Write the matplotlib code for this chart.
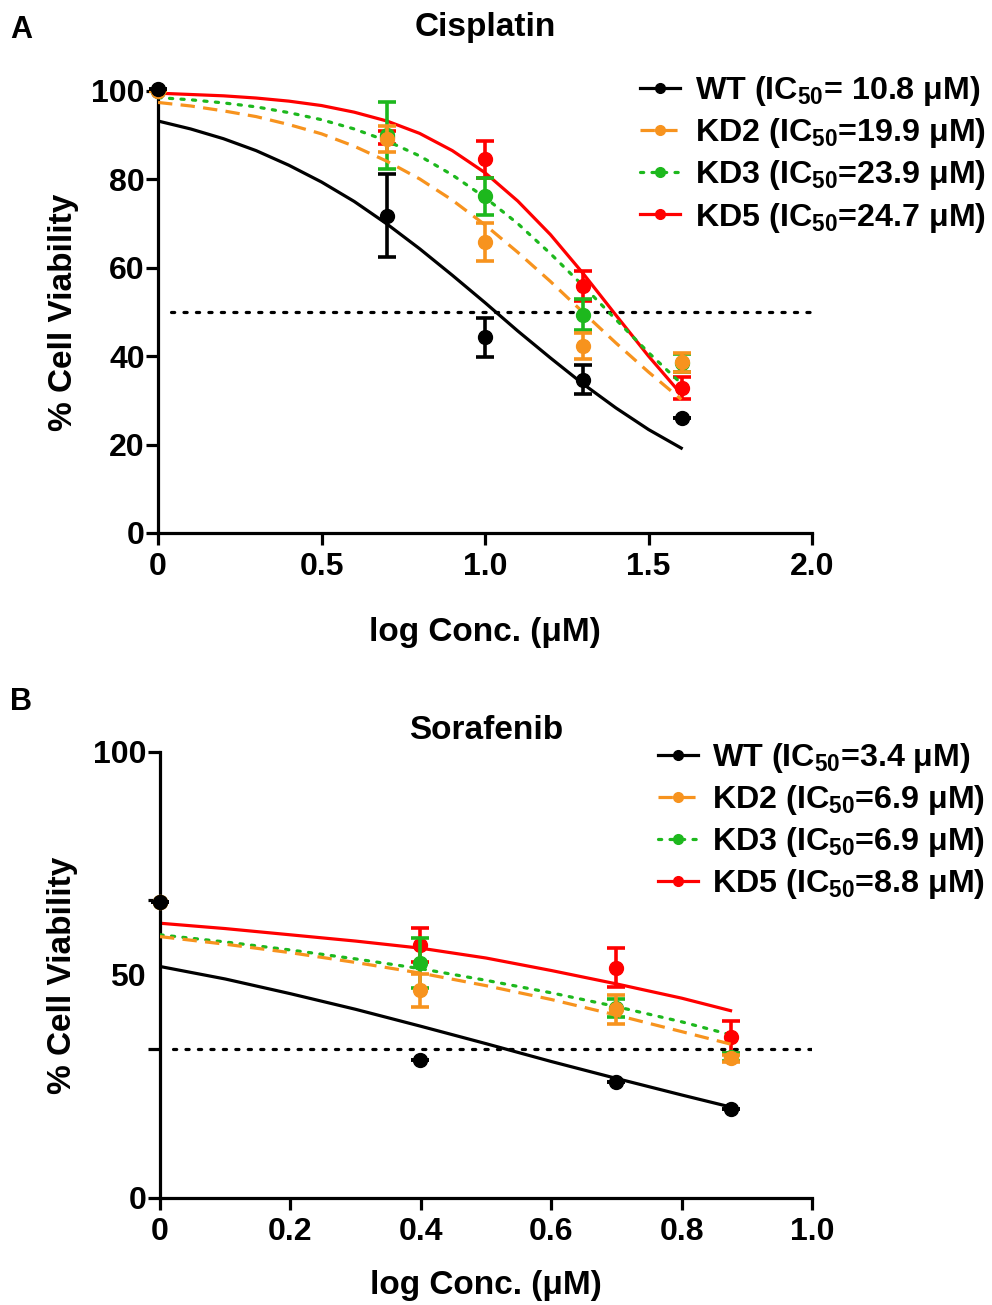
import matplotlib
matplotlib.use("Agg")
import matplotlib.pyplot as plt
from matplotlib.lines import Line2D

plt.rcParams['font.family'] = ['Liberation Sans', 'DejaVu Sans']
plt.rcParams['font.weight'] = 'bold'
plt.rcParams['axes.labelweight'] = 'bold'
plt.rcParams['mathtext.fontset'] = 'custom'
plt.rcParams['mathtext.rm'] = 'Liberation Sans:bold'
plt.rcParams['mathtext.it'] = 'Liberation Sans:bold'
plt.rcParams['mathtext.bf'] = 'Liberation Sans:bold'

# ---------------- Data ----------------
series = ['WT', 'KD2', 'KD3', 'KD5']
colors = {'WT': 'black', 'KD2': '#F7931E', 'KD3': '#1DB81D', 'KD5': '#FF0000'}

# Panel A: Cisplatin (log conc of 1, 5, 10, 20, 40 uM)
cis_x = [0, 0.699, 1.0, 1.301, 1.602]
cis_mean = {
    'WT':  [100.4, 71.8, 44.3, 34.7, 25.9],
    'KD2': [100.0, 89.1, 65.9, 42.3, 38.6],
    'KD3': [100.0, 90.0, 76.2, 49.4, 38.5],
    'KD5': [100.0, 89.5, 84.5, 55.8, 32.8],
}
cis_sem = {
    'WT':  [0, 9.3, 4.4, 3.3, 0],
    'KD2': [0, 3.0, 4.3, 3.0, 2.2],
    'KD3': [0, 7.6, 4.2, 3.5, 2.0],
    'KD5': [0, 1.5, 4.2, 3.4, 2.4],
}
cis_ic50 = {'WT': '= 10.8', 'KD2': '=19.9', 'KD3': '=23.9', 'KD5': '=24.7'}
# fitted curves
cis_fit_x = [0, 0.1, 0.2, 0.3, 0.4, 0.5, 0.6, 0.7, 0.8, 0.9, 1.0, 1.1, 1.2, 1.3, 1.4, 1.5, 1.6]
cis_fit = {
    'WT':  [93.2, 91.4, 89.2, 86.5, 83.2, 79.4, 75.0, 69.9, 64.3, 58.3, 52.1, 45.7, 39.6, 33.7, 28.3, 23.4, 19.2],
    'KD2': [97.4, 96.6, 95.5, 94.2, 92.4, 90.3, 87.5, 84.1, 80.1, 75.3, 69.7, 63.5, 56.9, 49.9, 43.0, 36.4, 30.2],
    'KD3': [98.5, 98.0, 97.3, 96.4, 95.1, 93.5, 91.4, 88.7, 85.3, 81.0, 75.9, 70.0, 63.2, 55.9, 48.3, 40.8, 33.8],
    'KD5': [99.5, 99.2, 98.9, 98.4, 97.7, 96.7, 95.2, 93.2, 90.4, 86.5, 81.5, 75.1, 67.5, 58.7, 49.3, 40.0, 31.4],
}
cis_half = 50

# Panel B: Sorafenib (log conc of 1, 2.5, 5, 7.5 uM)
sor_x = [0, 0.398, 0.699, 0.875]
sor_mean = {
    'WT':  [66.3, 31.0, 26.0, 19.9],
    'KD2': [66.3, 46.6, 42.3, 31.3],
    'KD3': [66.3, 52.6, 42.5, 31.6],
    'KD5': [66.3, 56.7, 51.6, 36.1],
}
sor_sem = {
    'WT':  [0, 0, 0, 0],
    'KD2': [0, 3.7, 3.2, 0.8],
    'KD3': [0, 5.6, 2.0, 0.8],
    'KD5': [0, 3.8, 4.4, 3.6],
}
sor_ic50 = {'WT': '=3.4', 'KD2': '=6.9', 'KD3': '=6.9', 'KD5': '=8.8'}
sor_fit_x = [0, 0.1, 0.2, 0.3, 0.4, 0.5, 0.6, 0.7, 0.8, 0.875]
sor_fit = {
    'WT':  [51.9, 49.1, 45.8, 42.3, 38.5, 34.6, 30.6, 26.8, 23.1, 20.4],
    'KD2': [58.6, 56.9, 55.0, 52.8, 50.4, 47.6, 44.5, 41.0, 37.3, 34.5],
    'KD3': [59.0, 57.4, 55.6, 53.6, 51.4, 48.8, 46.0, 42.9, 39.5, 36.6],
    'KD5': [61.6, 60.4, 59.0, 57.6, 56.0, 53.8, 51.0, 48.0, 44.8, 42.0],
}
sor_half = 33.3

linestyles = {'WT': '-', 'KD2': (0, (4.5, 2.6)), 'KD3': (0, (1, 2.6)), 'KD5': '-'}
draw_order = ['KD5', 'KD3', 'KD2', 'WT']

fig = plt.figure(figsize=(9.92, 13.05), dpi=100)
axA = fig.add_axes([0.1593, 0.5916, 0.6593, 0.3387])
axB = fig.add_axes([0.1613, 0.0820, 0.6573, 0.3418])


def draw_panel(ax, x, mean, sem, fit_x, fit, half):
    for i, s in enumerate(draw_order):
        c = colors[s]
        ax.plot(fit_x, fit[s], color=c, ls=linestyles[s], lw=2.3,
                dash_capstyle='round' if s == 'KD3' else 'butt', zorder=2 + i)
        ax.errorbar(x, mean[s], yerr=sem[s], fmt='o', color=c, ms=10,
                    elinewidth=2.6, capsize=6.5, capthick=2.6, clip_on=False,
                    zorder=3 + i)
    ax.axhline(half, xmin=0.02, xmax=1.0, color='black', ls=(0, (1, 2.9)),
               lw=2.3, dash_capstyle='round', zorder=1)
    for side in ['top', 'right']:
        ax.spines[side].set_visible(False)
    for side in ['left', 'bottom']:
        ax.spines[side].set_linewidth(2.3)
    ax.tick_params(width=2.3, length=8.5, labelsize=23)
    ax.tick_params(axis='y', pad=1)
    ax.tick_params(axis='x', pad=5)


def add_legend(ax, ic50, anchor):
    handles = []
    labels = []
    for s in series:
        handles.append(Line2D([], [], color=colors[s], ls=linestyles[s], lw=2.3,
                              marker='o', ms=7,
                              dash_capstyle='round' if s == 'KD3' else 'butt'))
        labels.append(s + ' (IC$_{50}$' + ic50[s] + ' \u03bcM)')
    ax.legend(handles, labels, loc='upper left', bbox_to_anchor=anchor,
              bbox_transform=fig.transFigure, frameon=False, fontsize=23.2,
              handlelength=1.25, handletextpad=0.45, labelspacing=0.25,
              borderpad=0, borderaxespad=0)


# Panel A
draw_panel(axA, cis_x, cis_mean, cis_sem, cis_fit_x, cis_fit, cis_half)
axA.set_xlim(0, 2.0)
axA.set_ylim(0, 100)
axA.set_xticks([0, 0.5, 1.0, 1.5, 2.0])
axA.set_xticklabels(['0', '0.5', '1.0', '1.5', '2.0'])
axA.set_yticks([0, 20, 40, 60, 80, 100])
axA.set_xlabel('log Conc. (\u03bcM)', fontsize=24, labelpad=25.5)
axA.set_ylabel('% Cell Viability', fontsize=24, labelpad=9)
axA.set_title('Cisplatin', fontsize=24, fontweight='bold', pad=39.5)
add_legend(axA, cis_ic50, (0.645, 0.943))

# Panel B
draw_panel(axB, sor_x, sor_mean, sor_sem, sor_fit_x, sor_fit, sor_half)
axB.set_xlim(0, 1.0)
axB.set_ylim(0, 100)
axB.set_xticks([0, 0.2, 0.4, 0.6, 0.8, 1.0])
axB.set_xticklabels(['0', '0.2', '0.4', '0.6', '0.8', '1.0'])
axB.set_yticks([0, 33.3, 66.7, 100])
axB.set_yticklabels(['0', '', '', '100'])
axB.set_yticks([50], minor=True)
axB.set_yticklabels(['50'], minor=True)
axB.tick_params(axis='y', which='minor', length=0, labelsize=23, pad=10)
axB.set_xlabel('log Conc. (\u03bcM)', fontsize=24, labelpad=16.5)
axB.set_ylabel('% Cell Viability', fontsize=24, labelpad=11)
axB.set_title('Sorafenib', fontsize=24, fontweight='bold', pad=9)
add_legend(axB, sor_ic50, (0.663, 0.432))

fig.text(0.010, 0.977, 'A', fontsize=22, fontweight='bold', va='center')
fig.text(0.010, 0.462, 'B', fontsize=22, fontweight='bold', va='center')

fig.savefig('out.png', dpi=100)
